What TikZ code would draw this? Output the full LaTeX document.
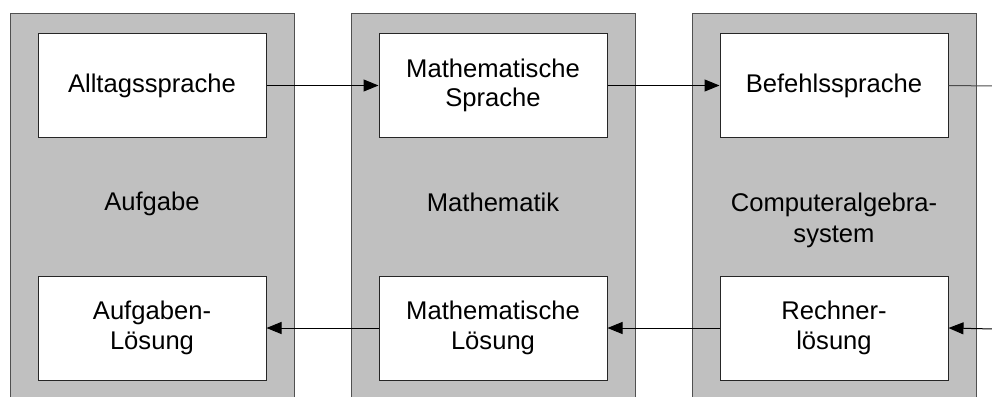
\documentclass[tikz,border=0pt]{standalone}
\usepackage{fontspec}
\setmainfont{Liberation Sans}
\usetikzlibrary{arrows.meta}
\definecolor{colgray}{HTML}{C0C0C0}
\definecolor{edge}{HTML}{505050}
\tikzset{
  column/.style={fill=colgray, draw=edge, line width=1pt},
  stage/.style={draw=black!85, fill=white, line width=1pt,
    minimum width=228pt, minimum height=104pt, inner sep=0pt,
    align=center, font=\fontsize{25.6}{29.5}\selectfont},
  caption/.style={align=center, font=\fontsize{25.6}{31}\selectfont, inner sep=0pt},
  flow/.style={line width=1pt, -{Triangle[length=15pt,width=12pt]}},
  plainflow/.style={line width=1pt, draw=black!70}
}
\begin{document}
\begin{tikzpicture}[x=1pt,y=-1pt]
  \useasboundingbox (0,0) rectangle (992,396);
  \clip (0,0) rectangle (992,396);
  \fill[white] (0,0) rectangle (992,396);
  % gray columns, running off the bottom edge
  \draw[column] (10,14) rectangle (294,410);
  \draw[column] (351,14) rectangle (635,410);
  \draw[column] (692,14) rectangle (976,410);
  % column captions
  \node[caption] (cap1) at (152,204) {Aufgabe};
  \node[caption] (cap2) at (493,202) {Mathematik};
  \node[caption, anchor=north] (cap3) at (834,193) {Computeralgebra-\\system};
  % upper row
  \node[stage] (alltag) at (152,85.5) {Alltagssprache};
  \node[stage] (msprache) at (493,85.5) {Mathematische\\Sprache};
  \node[stage] (befehl) at (834,85.5) {Befehlssprache};
  % lower row
  \node[stage] (aloes) at (152,328) {Aufgaben-\\Lösung};
  \node[stage] (mloes) at (493,328) {Mathematische\\Lösung};
  \node[stage] (rloes) at (834,328) {Rechner-\\lösung};
  % loose ends at the right margin
  \coordinate (outR) at (994,86);
  \coordinate (inR) at (994,329);
  % connectors
  \draw[flow] (alltag.east) -- (msprache.west);
  \draw[flow] (msprache.east) -- (befehl.west);
  \draw[plainflow] (befehl.east) -- (outR);
  \draw[flow] (inR) -- (rloes.east);
  \draw[flow] (rloes.west) -- (mloes.east);
  \draw[flow] (mloes.west) -- (aloes.east);
\end{tikzpicture}
\end{document}
